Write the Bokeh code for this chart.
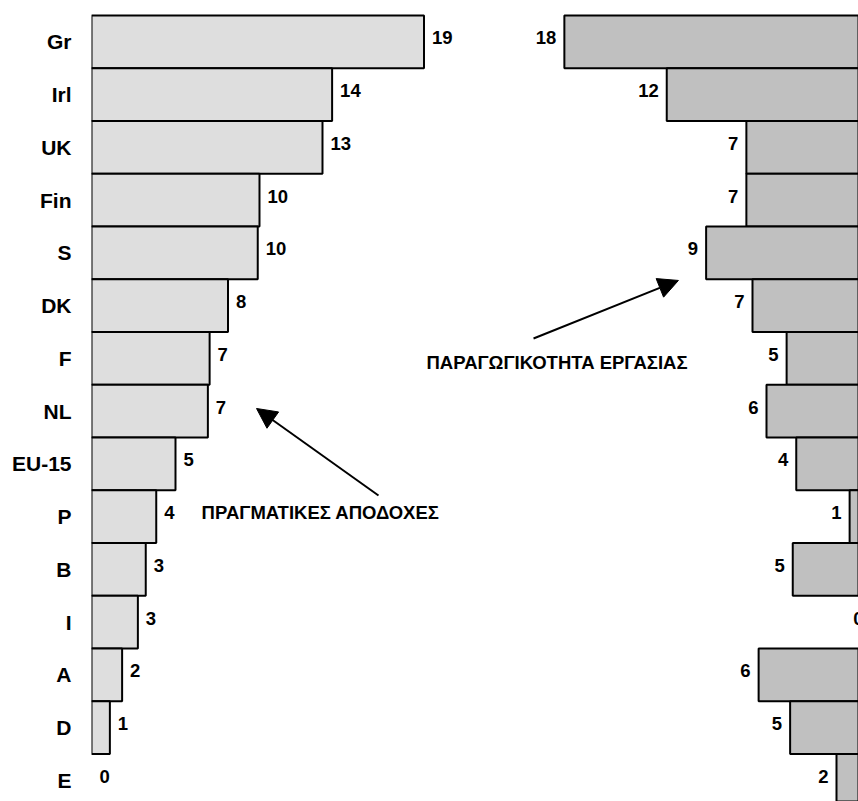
from bokeh.plotting import figure
from bokeh.models import Range1d, FixedTicker, ColumnDataSource, Arrow, NormalHead, Label
from bokeh.core.properties import value
from bokeh.embed import file_html
from bokeh.resources import INLINE

# ---- data ----
categories = ["Gr", "Irl", "UK", "Fin", "S", "DK", "F", "NL", "EU-15", "P", "B", "I", "A", "D", "E"]
wages = [19.0, 13.75, 13.2, 9.6, 9.5, 7.8, 6.75, 6.65, 4.8, 3.7, 3.1, 2.65, 1.75, 1.05, 0.0]
wage_labels = ["19", "14", "13", "10", "10", "8", "7", "7", "5", "4", "3", "3", "2", "1", "0"]
productivity = [17.55, 11.7, 7.15, 7.15, 9.45, 6.8, 4.85, 6.0, 4.3, 1.25, 4.5, 0.0, 6.45, 4.65, 2.0]
prod_labels = ["18", "12", "7", "7", "9", "7", "5", "6", "4", "1", "5", "0", "6", "5", "2"]
wage_title = "ΠΡΑΓΜΑΤΙΚΕΣ ΑΠΟΔΟΧΕΣ"
prod_title = "ΠΑΡΑΓΩΓΙΚΟΤΗΤΑ ΕΡΓΑΣΙΑΣ"

pos = list(range(len(categories)))
FONT = value("Liberation Sans")

p = figure(width=858, height=801, output_backend="svg", toolbar_location=None,
           x_range=Range1d(0, 43.83), y_range=Range1d(14.398, -0.784),
           x_axis_location=None, min_border_left=91, min_border_right=0,
           min_border_top=0, min_border_bottom=0)
p.extra_x_ranges = {"right": Range1d(44.57, 0.743)}
p.outline_line_color = None
p.grid.visible = False
p.background_fill_color = "white"

# bars (skip zero-length)
lsrc = ColumnDataSource(dict(y=[pos[i] for i in pos if wages[i] > 0],
                             v=[wages[i] for i in pos if wages[i] > 0]))
p.hbar(y="y", left=0, right="v", height=1.0, source=lsrc,
       fill_color="#dedede", line_color="black", line_width=2)

rsrc = ColumnDataSource(dict(y=[pos[i] for i in pos if productivity[i] > 0],
                             v=[productivity[i] for i in pos if productivity[i] > 0]))
p.hbar(y="y", left="v", right=0, height=1.0, source=rsrc, x_range_name="right",
       fill_color="#c0c0c0", line_color="black", line_width=2)

# value labels
p.text(x=wages, y=pos, text=wage_labels, x_offset=8, y_offset=-4,
       text_align="left", text_baseline="middle", text_font=FONT,
       text_font_style="bold", text_font_size="18.5px", text_color="black")
p.text(x=productivity, y=pos, text=prod_labels, x_offset=-8, y_offset=-4,
       text_align="right", text_baseline="middle", text_font=FONT,
       text_font_style="bold", text_font_size="18.5px", text_color="black",
       x_range_name="right")

# category axis
ax = p.yaxis[0]
ax.ticker = FixedTicker(ticks=pos)
ax.major_label_overrides = {i: c for i, c in zip(pos, categories)}
ax.axis_line_color = None
ax.major_tick_line_color = None
ax.minor_tick_line_color = None
ax.major_tick_out = 0
ax.major_tick_in = 0
ax.major_label_standoff = 20
ax.major_label_text_font = "Liberation Sans"
ax.major_label_text_font_style = "bold"
ax.major_label_text_font_size = "21px"
ax.major_label_text_color = "black"

# annotations
p.add_layout(Arrow(x_start=16.4, y_start=8.598, x_end=9.43, y_end=6.949,
                   line_width=2, line_color="black",
                   end=NormalHead(size=20, fill_color="black", line_color="black")))
p.add_layout(Arrow(x_start=25.26, y_start=5.622, x_end=33.54, y_end=4.522,
                   line_width=2, line_color="black",
                   end=NormalHead(size=20, fill_color="black", line_color="black")))
p.add_layout(Label(x=6.29, y=8.92, text=wage_title, text_align="left",
                   text_baseline="middle", text_font="Liberation Sans",
                   text_font_style="bold", text_font_size="18.5px", text_color="black"))
p.add_layout(Label(x=19.14, y=6.077, text=prod_title, text_align="left",
                   text_baseline="middle", text_font="Liberation Sans",
                   text_font_style="bold", text_font_size="18.5px", text_color="black"))

open("out.html", "w").write(file_html(p, INLINE))
